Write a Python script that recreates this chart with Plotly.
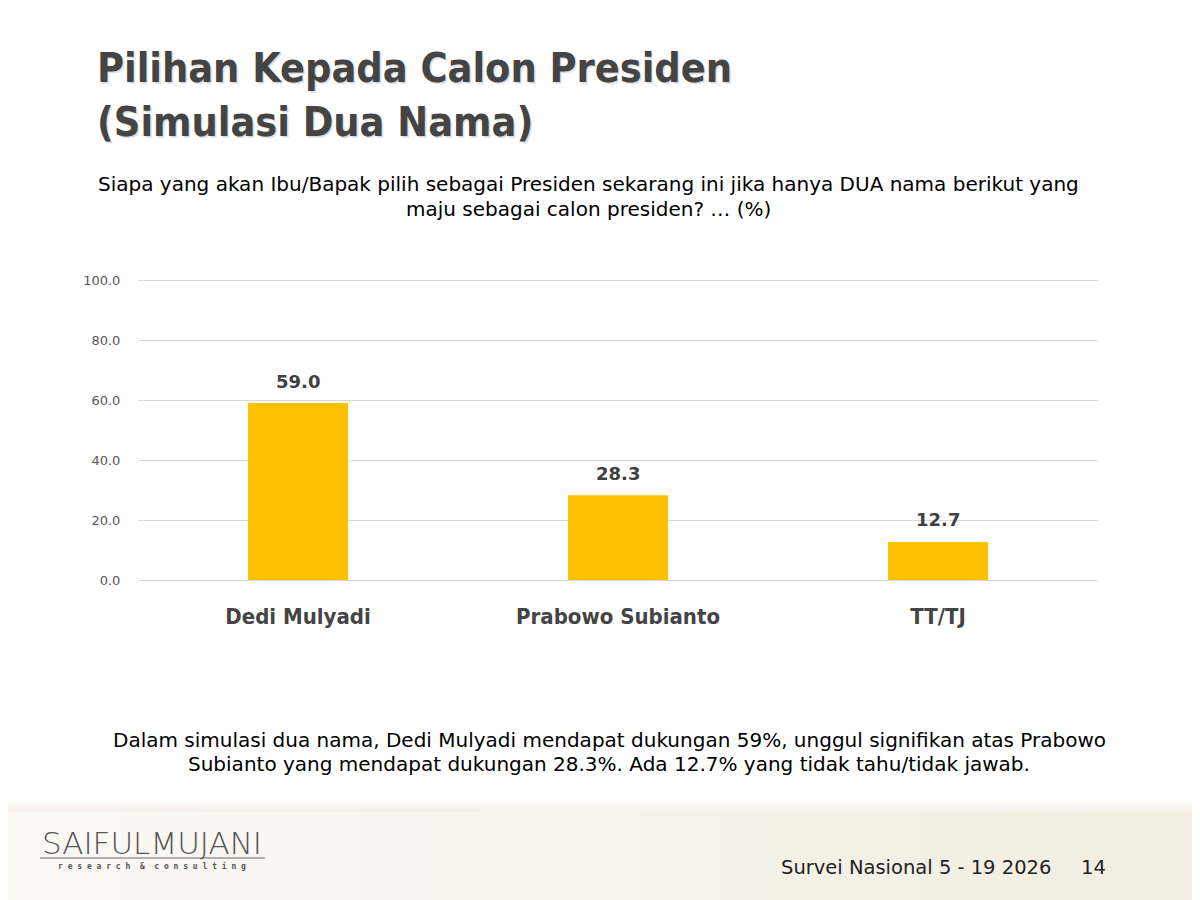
import plotly.graph_objects as go

categories = ["Dedi Mulyadi", "Prabowo Subianto", "TT/TJ"]
values = [59.0, 28.3, 12.7]
value_labels = ["59.0", "28.3", "12.7"]
y_ticks = [0, 20, 40, 60, 80, 100]
y_tick_labels = ["0.0", "20.0", "40.0", "60.0", "80.0", "100.0"]

title_lines = ["Pilihan Kepada Calon Presiden", "(Simulasi Dua Nama)"]
question_lines = [
    "Siapa yang akan Ibu/Bapak pilih sebagai Presiden sekarang ini jika hanya DUA nama berikut yang",
    "maju sebagai calon presiden? … (%)",
]
summary_lines = [
    "Dalam simulasi dua nama, Dedi Mulyadi mendapat dukungan 59%, unggul signifikan atas Prabowo",
    "Subianto yang mendapat dukungan 28.3%. Ada 12.7% yang tidak tahu/tidak jawab.",
]
logo_main = "SAIFULMUJANI"
logo_sub = "r e s e a r c h  &  c o n s u l t i n g"
footer_text = "Survei Nasional 5 - 19 2026"
page_number = "14"

OFF = 8  # page body margin
W, H = 1200, 900
# plot area in target-picture pixels
X0, X1, Y0, Y1 = 138, 1098, 279, 580
L, R, T = X0 - OFF, W - (X1 - OFF), Y0 - OFF
B = H - (Y1 - OFF)
PW, PH = W - L - R, H - T - B


def px(x):
    return (x - OFF - L) / PW


def py(y):
    return (H - B - (y - OFF)) / PH


fig = go.Figure()
fig.add_trace(go.Bar(
    x=categories, y=values,
    marker=dict(color="#FFC000", line=dict(width=0)),
    hoverinfo="skip",
))

annotations = []
# value labels above bars (data coordinates)
for c, v, t in zip(categories, values, value_labels):
    annotations.append(dict(
        x=c, y=v, xref="x", yref="y", text="<b>" + t + "</b>", showarrow=False,
        yanchor="middle", yshift=22,
        font=dict(family="DejaVu Sans", size=18, color="#404040"),
    ))
# Title (with subtle shadow)
for i, line in enumerate(title_lines):
    for dx, dy, col in [(2, 2, "rgba(0,0,0,0.09)"), (1, 1, "rgba(0,0,0,0.08)"), (0, 0, "#444444")]:
        annotations.append(dict(
            text="<b>" + line + "</b>", x=px(95 + dx), y=py(68 + i * 54 + dy), xref="paper", yref="paper",
            xanchor="left", yanchor="middle", showarrow=False,
            font=dict(family="DejaVu Sans Condensed", size=41, color=col),
        ))
# Question
for i, line in enumerate(question_lines):
    annotations.append(dict(
        text=line, x=px(588), y=py(184 + i * 25), xref="paper", yref="paper",
        xanchor="center", yanchor="middle", showarrow=False,
        font=dict(family="DejaVu Sans", size=20, color="#000000"),
    ))
# Summary
for i, line in enumerate(summary_lines):
    annotations.append(dict(
        text=line, x=px(609), y=py(740 + i * 24), xref="paper", yref="paper",
        xanchor="center", yanchor="middle", showarrow=False,
        font=dict(family="DejaVu Sans", size=20, color="#000000"),
    ))
# Logo
annotations.append(dict(
    text=logo_main, x=px(152), y=py(843), xref="paper", yref="paper",
    xanchor="center", yanchor="middle", showarrow=False,
    font=dict(family="DejaVu Sans", size=31, color="#555555", weight=200),
))
annotations.append(dict(
    text="<b>" + logo_sub + "</b>", x=px(152), y=py(866), xref="paper", yref="paper",
    xanchor="center", yanchor="middle", showarrow=False,
    font=dict(family="DejaVu Sans Mono", size=8, color="#555555"),
))
# Footer
annotations.append(dict(
    text=footer_text, x=px(1053), y=py(867), xref="paper", yref="paper",
    xanchor="right", yanchor="middle", showarrow=False,
    font=dict(family="DejaVu Sans", size=19.5, color="#222222"),
))
annotations.append(dict(
    text=page_number, x=px(1108), y=py(867), xref="paper", yref="paper",
    xanchor="right", yanchor="middle", showarrow=False,
    font=dict(family="DejaVu Sans", size=19.5, color="#222222"),
))

shapes = []
# Footer background band: beige, fading to near white on the left and at the top
steps = 30
for i in range(steps):
    xa = i * W / steps
    xb = (i + 1) * W / steps + 1
    f = i / (steps - 1)
    r = int(252 - 9 * f)
    g = int(250 - 13 * f)
    b = int(245 - 20 * f)
    shapes.append(dict(type="rect", xref="paper", yref="paper", x0=px(xa), x1=px(xb),
                       y0=py(910), y1=py(812), fillcolor=f"rgb({r},{g},{b})",
                       line=dict(width=0), layer="below"))
for j in range(6):
    ya = 800 + j * 2
    a = (j + 1) / 7
    shapes.append(dict(type="rect", xref="paper", yref="paper", x0=px(0), x1=px(W + 10),
                       y0=py(ya + 2), y1=py(ya), fillcolor=f"rgba(245,240,230,{a:.2f})",
                       line=dict(width=0), layer="below"))
# Logo underline
shapes.append(dict(type="line", xref="paper", yref="paper", x0=px(40), x1=px(265),
                   y0=py(858), y1=py(858), line=dict(color="#666666", width=1.2)))

fig.update_layout(
    width=W, height=H, margin=dict(l=L, r=R, t=T, b=B),
    paper_bgcolor="white", plot_bgcolor="rgba(0,0,0,0)",
    showlegend=False, bargap=0.6875,
    annotations=annotations, shapes=shapes,
    xaxis=dict(
        showgrid=False, showline=False, zeroline=False,
        ticks="outside", ticklen=17, tickcolor="rgba(0,0,0,0)",
        tickfont=dict(family="DejaVu Sans Condensed", size=22, color="#444444"),
        tickprefix="<b>", ticksuffix="</b>",
        fixedrange=True,
    ),
    yaxis=dict(
        range=[0, 100.4], tickvals=y_ticks, ticktext=y_tick_labels,
        showgrid=True, gridcolor="#d9d9d9", gridwidth=1, zeroline=True,
        zerolinecolor="#d9d9d9", zerolinewidth=1, showline=False,
        ticks="outside", ticklen=14, tickcolor="rgba(0,0,0,0)",
        tickfont=dict(family="DejaVu Sans", size=13, color="#595959"),
        fixedrange=True,
    ),
)

fig.write_html("out.html")
